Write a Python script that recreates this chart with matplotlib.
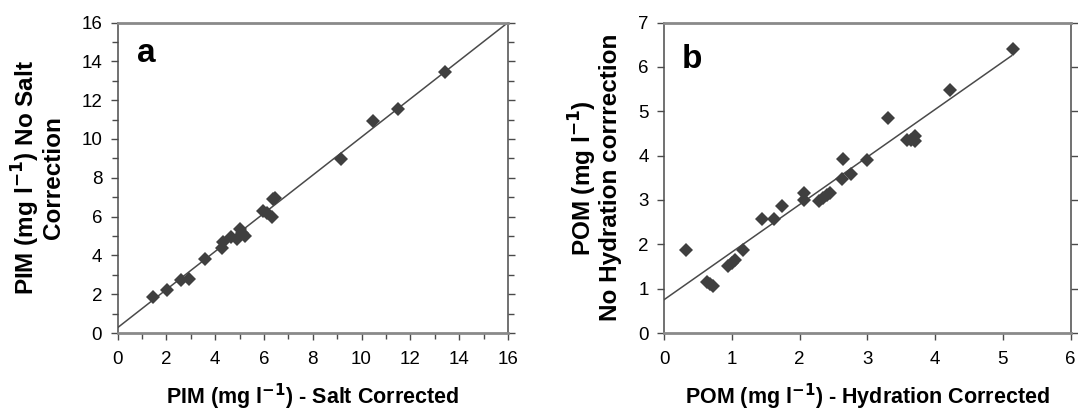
import matplotlib
matplotlib.use('Agg')
import matplotlib.pyplot as plt
from matplotlib.ticker import MultipleLocator

plt.rcParams['font.family'] = ['Liberation Sans', 'DejaVu Sans']

# Panel a data: PIM salt corrected vs no salt correction
a_x = [1.44, 2.02, 2.60, 2.94, 3.60, 4.28, 4.31, 4.65, 4.88, 5.02, 5.24, 5.12,
       5.95, 6.11, 6.32, 6.39, 6.45, 9.15, 10.46, 11.51, 13.42]
a_y = [1.87, 2.22, 2.73, 2.80, 3.83, 4.36, 4.71, 4.93, 4.86, 5.34, 5.00, 5.15,
       6.30, 6.17, 6.00, 6.89, 6.95, 8.99, 10.91, 11.56, 13.45]
a_fit_x = [0, 16]
a_fit_y = [0.27, 16.0]

# Panel b data: POM hydration corrected vs no hydration correction
b_x = [0.32, 0.63, 0.68, 0.73, 0.94, 1.00, 1.05, 1.16, 1.45, 1.62, 1.74, 2.06,
       2.07, 2.29, 2.40, 2.45, 2.35, 2.62, 2.64, 2.76, 3.00, 3.31, 3.58, 3.65,
       3.71, 3.70, 4.22, 5.15]
b_y = [1.87, 1.14, 1.11, 1.06, 1.50, 1.57, 1.65, 1.87, 2.58, 2.57, 2.86, 3.15,
       3.00, 2.97, 3.12, 3.16, 3.05, 3.48, 3.93, 3.58, 3.89, 4.85, 4.34, 4.34,
       4.43, 4.33, 5.48, 6.40]
b_fit_x = [0, 5.13]
b_fit_y = [0.75, 6.25]

W, H = 1078, 413
fig = plt.figure(figsize=(W / 100, H / 100), dpi=100)

ax1 = fig.add_axes([117.5 / W, (H - 333) / H, (508 - 117.5) / W, (333 - 22.5) / H])
ax2 = fig.add_axes([664 / W, (H - 333) / H, (1070.5 - 664) / W, (333 - 22.5) / H])

mcolor = '#3f3f3f'
for ax in (ax1, ax2):
    ax.spines['top'].set_color('#8a8a8a')
    ax.spines['top'].set_linewidth(2.0)
    ax.spines['bottom'].set_color('#8a8a8a')
    ax.spines['bottom'].set_linewidth(2.0)
    ax.spines['left'].set_color('#4a4a4a')
    ax.spines['left'].set_linewidth(1.1)
    ax.spines['right'].set_color('#4a4a4a')
    ax.spines['right'].set_linewidth(1.1)
    ax.tick_params(which='both', direction='out', color='#4a4a4a', width=1.0,
                   top=False, right=True, labelright=False, labelsize=13.5)
    ax.tick_params(which='major', length=5, pad=6)
    ax.tick_params(which='minor', length=4)
    ax.tick_params(axis='x', which='major', pad=8)

# Panel a
ax1.plot(a_fit_x, a_fit_y, color='#4a4a4a', lw=1.1, zorder=2)
ax1.plot(a_x, a_y, linestyle='none', marker='D', ms=7.2, color=mcolor,
         markeredgewidth=0, zorder=3)
ax1.set_xlim(0, 16)
ax1.set_ylim(0, 16)
ax1.xaxis.set_major_locator(MultipleLocator(2))
ax1.xaxis.set_minor_locator(MultipleLocator(1))
ax1.yaxis.set_major_locator(MultipleLocator(2))
ax1.yaxis.set_minor_locator(MultipleLocator(1))
ax1.set_xlabel('PIM (mg l$^{\\mathbf{-1}}$) - Salt Corrected', fontsize=15.5,
               fontweight='bold', labelpad=10)
ax1.set_ylabel('PIM (mg l$^{\\mathbf{-1}}$) No Salt\nCorrection', fontsize=17.5,
               fontweight='bold', labelpad=12, linespacing=1.0)
ax1.text(0.05, 0.873, 'a', transform=ax1.transAxes, fontsize=24, fontweight='bold')

# Panel b
ax2.plot(b_fit_x, b_fit_y, color='#4a4a4a', lw=1.1, zorder=2)
ax2.plot(b_x, b_y, linestyle='none', marker='D', ms=7.2, color=mcolor,
         markeredgewidth=0, zorder=3)
ax2.set_xlim(0, 6)
ax2.set_ylim(0, 7)
ax2.xaxis.set_major_locator(MultipleLocator(1))
ax2.yaxis.set_major_locator(MultipleLocator(1))
ax2.set_xlabel('POM (mg l$^{\\mathbf{-1}}$) - Hydration Corrected', fontsize=15.5,
               fontweight='bold', labelpad=10)
ax2.set_ylabel('POM (mg l$^{\\mathbf{-1}}$)\nNo Hydration corrrection', fontsize=17.5,
               fontweight='bold', labelpad=12, linespacing=1.0)
ax2.text(0.044, 0.853, 'b', transform=ax2.transAxes, fontsize=24, fontweight='bold')

fig.savefig('out.png', dpi=100)
